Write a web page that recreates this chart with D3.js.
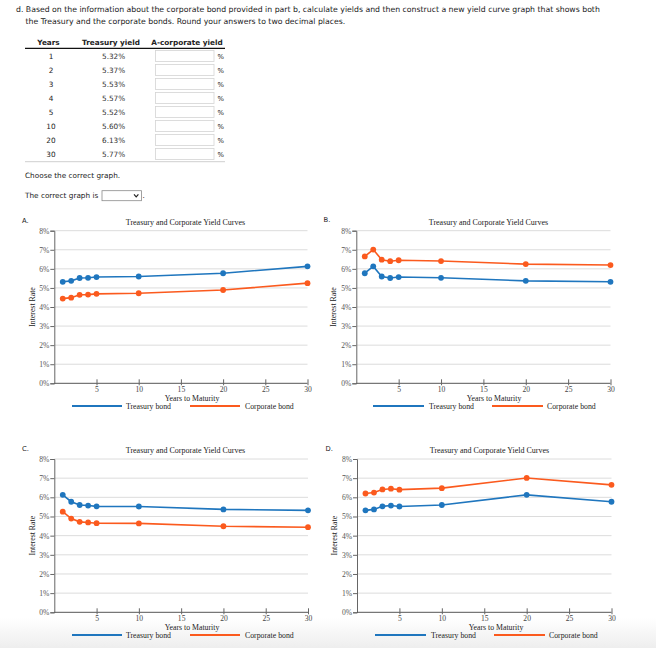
<!DOCTYPE html>
<html>
<head>
<meta charset="utf-8">
<script src="https://cdn.jsdelivr.net/npm/d3@7"></script>
<style>
  html, body { margin: 0; padding: 0; background: #fff; }
  svg { display: block; }
</style>
</head>
<body>
<svg id="root" width="656" height="648"></svg>
<script>
// ---------- DATA ----------
const questionLines = [
  "d. Based on the information about the corporate bond provided in part b, calculate yields and then construct a new yield curve graph that shows both",
  "the Treasury and the corporate bonds. Round your answers to two decimal places."
];
const tableHeaders = ["Years", "Treasury yield", "A-corporate yield"];
const tableYears = ["1", "2", "3", "4", "5", "10", "20", "30"];
const tableTreasury = ["5.32%", "5.37%", "5.53%", "5.57%", "5.52%", "5.60%", "6.13%", "5.77%"];

const years = [1, 2, 3, 4, 5, 10, 20, 30];
const treasuryA = [5.32, 5.37, 5.52, 5.53, 5.57, 5.60, 5.77, 6.13];
const corporateA = [4.44, 4.49, 4.64, 4.65, 4.69, 4.72, 4.89, 5.25];
const treasuryB = [5.77, 6.13, 5.60, 5.52, 5.57, 5.53, 5.37, 5.32];
const corporateB = [6.65, 7.01, 6.48, 6.40, 6.45, 6.41, 6.25, 6.20];
const treasuryC = [6.13, 5.77, 5.60, 5.57, 5.53, 5.52, 5.37, 5.32];
const corporateC = [5.25, 4.89, 4.72, 4.69, 4.65, 4.64, 4.49, 4.44];
const treasuryD = [5.32, 5.37, 5.53, 5.57, 5.52, 5.60, 6.13, 5.77];
const corporateD = [6.20, 6.25, 6.41, 6.45, 6.40, 6.48, 7.01, 6.65];

const yTicks = [0, 1, 2, 3, 4, 5, 6, 7, 8];
const yTickLabels = ["0%", "1%", "2%", "3%", "4%", "5%", "6%", "7%", "8%"];
const xTicks = [5, 10, 15, 20, 25, 30];
const seriesNames = ["Treasury bond", "Corporate bond"];
const chartTitle = "Treasury and Corporate Yield Curves";
const xAxisTitle = "Years to Maturity";
const yAxisTitle = "Interest Rate";
const panelLabels = ["A.", "B.", "C.", "D."];

// ---------- STYLE / LAYOUT ----------
const BLUE = "#1f76be";
const ORANGE = "#fb5a1e";
const SANS = "'DejaVu Sans', Verdana, sans-serif";
const SERIF = "'Liberation Serif', 'Times New Roman', serif";

const svg = d3.select("#root");
svg.append("rect").attr("width", 656).attr("height", 648).attr("fill", "#fff");

// bottom light band
const defs = svg.append("defs");
const grad = defs.append("linearGradient").attr("id", "band").attr("x1", 0).attr("x2", 0).attr("y1", 0).attr("y2", 1);
grad.append("stop").attr("offset", "0%").attr("stop-color", "#ffffff");
grad.append("stop").attr("offset", "100%").attr("stop-color", "#eeeeee");
svg.append("rect").attr("x", 0).attr("y", 618).attr("width", 656).attr("height", 30).attr("fill", "url(#band)");

// ---------- QUESTION TEXT ----------
const q = svg.append("g").attr("font-family", SANS).attr("font-size", 7.75).attr("fill", "#222");
q.append("text").attr("x", 16).attr("y", 11.8).text(questionLines[0]);
q.append("text").attr("x", 25.5).attr("y", 24.3).text(questionLines[1]);

// ---------- TABLE ----------
const tbl = svg.append("g").attr("font-family", SANS).attr("font-size", 7.3).attr("fill", "#222");
const colX = [48.5, 111, 187];
tableHeaders.forEach((h, i) => {
  tbl.append("text").attr("x", colX[i]).attr("y", 44.8).attr("text-anchor", "middle")
    .attr("font-weight", "bold").text(h);
});
tbl.append("line").attr("x1", 25).attr("x2", 225).attr("y1", 48.3).attr("y2", 48.3)
  .attr("stroke", "#111").attr("stroke-width", 1.2);
const rowY = d3.scalePoint().domain(tableYears).range([56, 154]);
tableYears.forEach((yr, i) => {
  const cy = rowY(yr);
  tbl.append("text").attr("x", 51).attr("y", cy + 2.6).attr("text-anchor", "middle").text(yr);
  tbl.append("text").attr("x", 102).attr("y", cy + 2.6).attr("fill", "#333").text(tableTreasury[i]);
  tbl.append("rect").attr("x", 155.5).attr("y", cy - 5.5).attr("width", 58.5).attr("height", 11)
    .attr("fill", "#fff").attr("stroke", "#d4d4d4").attr("stroke-width", 0.8);
  tbl.append("text").attr("x", 217.5).attr("y", cy + 2.6).attr("font-size", 6.8).text("%");
});
tbl.append("line").attr("x1", 25).attr("x2", 225).attr("y1", 161.7).attr("y2", 161.7)
  .attr("stroke", "#cfcfcf").attr("stroke-width", 1);

tbl.append("text").attr("x", 25).attr("y", 177.7).text("Choose the correct graph.");
tbl.append("text").attr("x", 25).attr("y", 198.3).text("The correct graph is");
tbl.append("rect").attr("x", 102).attr("y", 190.7).attr("width", 39.5).attr("height", 10)
  .attr("fill", "#fff").attr("stroke", "#8a8a8a").attr("stroke-width", 0.8);
tbl.append("path").attr("d", "M134,194.3 L136.2,196.8 L138.4,194.3").attr("fill", "none")
  .attr("stroke", "#222").attr("stroke-width", 1.2);
tbl.append("text").attr("x", 142.5).attr("y", 198.3).text(".");

// ---------- CHART PANELS ----------
const panels = [
  { label: panelLabels[0], t: treasuryA, c: corporateA, lx: 22, ly: 222.5,
    x0: 54.3, x1: 307.5, yTop: 230.7, yBot: 383.3, titleX: 185.5, titleY: 224.8,
    yLabX: 35, xLabX: 192, xLabY: 401, legY: 406, leg: [72, 122, 126, 190, 240, 245] },
  { label: panelLabels[1], t: treasuryB, c: corporateB, lx: 323.5, ly: 221.5,
    x0: 356.3, x1: 610.5, yTop: 230.7, yBot: 383.3, titleX: 488.5, titleY: 224.8,
    yLabX: 336, xLabX: 494, xLabY: 401, legY: 406, leg: [373, 424, 429, 492, 543, 547] },
  { label: panelLabels[2], t: treasuryC, c: corporateC, lx: 22, ly: 450.5,
    x0: 54.3, x1: 308, yTop: 459, yBot: 612.3, titleX: 185.5, titleY: 453,
    yLabX: 35, xLabX: 192, xLabY: 630, legY: 635, leg: [72, 122, 126, 190, 240, 245] },
  { label: panelLabels[3], t: treasuryD, c: corporateD, lx: 325.5, ly: 450.5,
    x0: 357, x1: 611.5, yTop: 459, yBot: 612.3, titleX: 489.5, titleY: 453,
    yLabX: 336.5, xLabX: 496, xLabY: 630, legY: 635, leg: [375, 426, 431, 494, 545, 549] }
];

panels.forEach(p => {
  const g = svg.append("g");
  const x = d3.scaleLinear().domain([0, 30]).range([p.x0, p.x1]);
  const y = d3.scaleLinear().domain([0, 8]).range([p.yBot, p.yTop]);

  // panel letter
  g.append("text").attr("x", p.lx).attr("y", p.ly).attr("font-family", SANS)
    .attr("font-size", 6.8).attr("fill", "#222").text(p.label);

  // title
  g.append("text").attr("x", p.titleX).attr("y", p.titleY).attr("text-anchor", "middle")
    .attr("font-family", SERIF).attr("font-size", 8).attr("fill", "#222").text(chartTitle);

  // grid lines
  g.append("g").selectAll("line").data(yTicks.filter(v => v > 0)).join("line")
    .attr("x1", p.x0).attr("x2", p.x1)
    .attr("y1", d => y(d)).attr("y2", d => y(d))
    .attr("stroke", "#dcdcdc").attr("stroke-width", 1);

  // y axis
  const yAxis = d3.axisLeft(y).tickValues(yTicks).tickFormat((d, i) => yTickLabels[i])
    .tickSize(4).tickPadding(1);
  const ya = g.append("g").attr("transform", `translate(${p.x0},0)`).call(yAxis);
  ya.select(".domain").attr("stroke", "#666");
  ya.selectAll(".tick line").attr("stroke", "#666");
  ya.selectAll(".tick text").attr("font-family", SERIF).attr("font-size", 7.6).attr("fill", "#555");

  // x axis
  const xAxis = d3.axisBottom(x).tickValues(xTicks).tickSize(2).tickPadding(1.6);
  const xa = g.append("g").attr("transform", `translate(0,${p.yBot})`).call(xAxis);
  xa.select(".domain").attr("stroke", "#555").attr("d", `M${p.x0},0H${p.x1}`);
  xa.selectAll(".tick line").attr("stroke", "#666").attr("y1", -4).attr("y2", 2);
  xa.selectAll(".tick text").attr("font-family", SERIF).attr("font-size", 7.6).attr("fill", "#444");

  // axis titles
  g.append("text").attr("transform", `translate(${p.yLabX},${(p.yTop + p.yBot) / 2}) rotate(-90)`)
    .attr("text-anchor", "middle").attr("font-family", SERIF).attr("font-size", 7.8)
    .attr("fill", "#222").text(yAxisTitle);
  g.append("text").attr("x", p.xLabX).attr("y", p.xLabY).attr("text-anchor", "middle")
    .attr("font-family", SERIF).attr("font-size", 7.8).attr("fill", "#222").text(xAxisTitle);

  // series
  const line = d3.line().x((d, i) => x(years[i])).y(d => y(d));
  [[p.t, BLUE], [p.c, ORANGE]].forEach(([vals, col]) => {
    g.append("path").datum(vals).attr("d", line).attr("fill", "none")
      .attr("stroke", col).attr("stroke-width", 1.6);
    g.append("g").selectAll("circle").data(vals).join("circle")
      .attr("cx", (d, i) => x(years[i])).attr("cy", d => y(d)).attr("r", 2.9).attr("fill", col);
  });

  // legend
  const L = p.leg;
  g.append("line").attr("x1", L[0]).attr("x2", L[1]).attr("y1", p.legY).attr("y2", p.legY)
    .attr("stroke", BLUE).attr("stroke-width", 1.8);
  g.append("text").attr("x", L[2]).attr("y", p.legY + 2.7).attr("font-family", SERIF)
    .attr("font-size", 7.8).attr("fill", "#222").text(seriesNames[0]);
  g.append("line").attr("x1", L[3]).attr("x2", L[4]).attr("y1", p.legY).attr("y2", p.legY)
    .attr("stroke", ORANGE).attr("stroke-width", 1.8);
  g.append("text").attr("x", L[5]).attr("y", p.legY + 2.7).attr("font-family", SERIF)
    .attr("font-size", 7.8).attr("fill", "#222").text(seriesNames[1]);
});
</script>
</body>
</html>
